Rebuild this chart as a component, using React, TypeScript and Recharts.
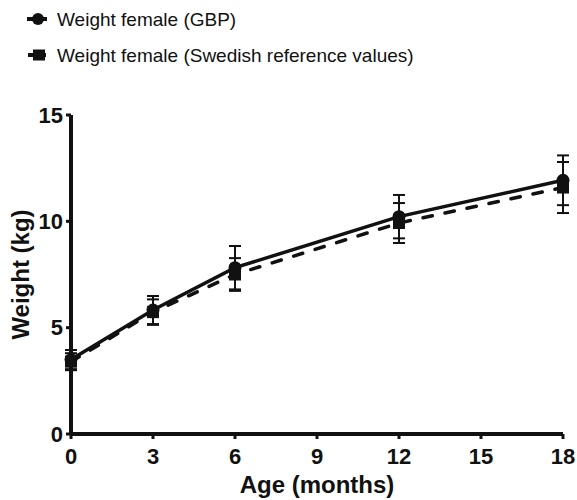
import React from 'react';
import { ComposedChart, Line, XAxis, YAxis, ErrorBar } from 'recharts';

const ages = [0, 3, 6, 12, 18];
const gbpMean = [3.5, 5.83, 7.82, 10.22, 11.93];
const gbpSd = [0.45, 0.66, 1.02, 1.02, 1.17];
const sweMean = [3.4, 5.73, 7.5, 9.92, 11.59];
const sweSd = [0.4, 0.6, 0.77, 0.94, 1.2];
const xTicks = [0, 3, 6, 9, 12, 15, 18];
const yTicks = [0, 5, 10, 15];
const seriesNames = ['Weight female (GBP)', 'Weight female (Swedish reference values)'];

const data = ages.map((age, i) => ({
  age,
  gbp: gbpMean[i],
  gbpSd: gbpSd[i],
  swe: sweMean[i],
  sweSd: sweSd[i],
}));

const INK = '#111111';
const FONT = '"Liberation Sans", Arial, Helvetica, sans-serif';

const CircleDot = (props: any) => {
  const { cx, cy, index } = props;
  if (cx == null || cy == null) return null;
  return <circle key={`c-${index}`} cx={cx} cy={cy} r={6.5} fill={INK} stroke="none" />;
};

const SquareDot = (props: any) => {
  const { cx, cy, index } = props;
  if (cx == null || cy == null) return null;
  return <rect key={`s-${index}`} x={cx - 6} y={cy - 6} width={12} height={12} fill={INK} stroke="none" />;
};

const tickStyle = { fontSize: 22, fontWeight: 700, fill: INK, fontFamily: FONT };

export default function App() {
  return (
    <div style={{ position: 'absolute', left: 0, top: 0, width: 577, height: 500, background: '#fff' }}>
      <svg width={577} height={80} style={{ position: 'absolute', left: 0, top: 0 }}>
        <g>
          <line x1={27} y1={19} x2={47} y2={19} stroke={INK} strokeWidth={4} />
          <circle cx={38} cy={19} r={6} fill={INK} />
          <text x={57} y={26} fontSize={19} fontFamily={FONT} fill={INK}>{seriesNames[0]}</text>
        </g>
        <g>
          <line x1={28} y1={55} x2={46} y2={55} stroke={INK} strokeWidth={4} />
          <rect x={33} y={49.5} width={12} height={11} fill={INK} />
          <text x={57} y={62} fontSize={19} fontFamily={FONT} fill={INK}>{seriesNames[1]}</text>
        </g>
      </svg>
      <div style={{ position: 'absolute', left: 0, top: 0 }}>
        <ComposedChart width={577} height={500} data={data} margin={{ top: 115, right: 14, left: 0, bottom: 26 }}>
          <XAxis
            type="number"
            dataKey="age"
            domain={[0, 18]}
            ticks={xTicks}
            interval={0}
            height={40}
            axisLine={{ stroke: INK, strokeWidth: 4 }}
            tickLine={{ stroke: INK, strokeWidth: 3 }}
            tickSize={5}
            tickMargin={9}
            tick={tickStyle}
            label={{ value: 'Age (months)', position: 'bottom', offset: 2, style: { fontSize: 24, fontWeight: 700, fill: INK, fontFamily: FONT } }}
          />
          <YAxis
            type="number"
            domain={[0, 15]}
            ticks={yTicks}
            interval={0}
            width={71}
            axisLine={{ stroke: INK, strokeWidth: 4 }}
            tickLine={{ stroke: INK, strokeWidth: 3 }}
            tickSize={5}
            tickMargin={3}
            tick={tickStyle}
            label={{ value: 'Weight (kg)', angle: -90, position: 'center', dx: -15, style: { fontSize: 24, fontWeight: 700, fill: INK, fontFamily: FONT, textAnchor: 'middle' } }}
          />
          <Line
            type="linear"
            dataKey="swe"
            name={seriesNames[1]}
            stroke={INK}
            strokeWidth={3.5}
            strokeDasharray="9.5 13"
            strokeLinecap="round"
            dot={SquareDot}
            activeDot={false}
            isAnimationActive={false}
          >
            <ErrorBar dataKey="sweSd" direction="y" width={6} stroke={INK} strokeWidth={2} />
          </Line>
          <Line
            type="linear"
            dataKey="gbp"
            name={seriesNames[0]}
            stroke={INK}
            strokeWidth={3.5}
            dot={CircleDot}
            activeDot={false}
            isAnimationActive={false}
          >
            <ErrorBar dataKey="gbpSd" direction="y" width={6} stroke={INK} strokeWidth={2} />
          </Line>
        </ComposedChart>
      </div>
    </div>
  );
}
